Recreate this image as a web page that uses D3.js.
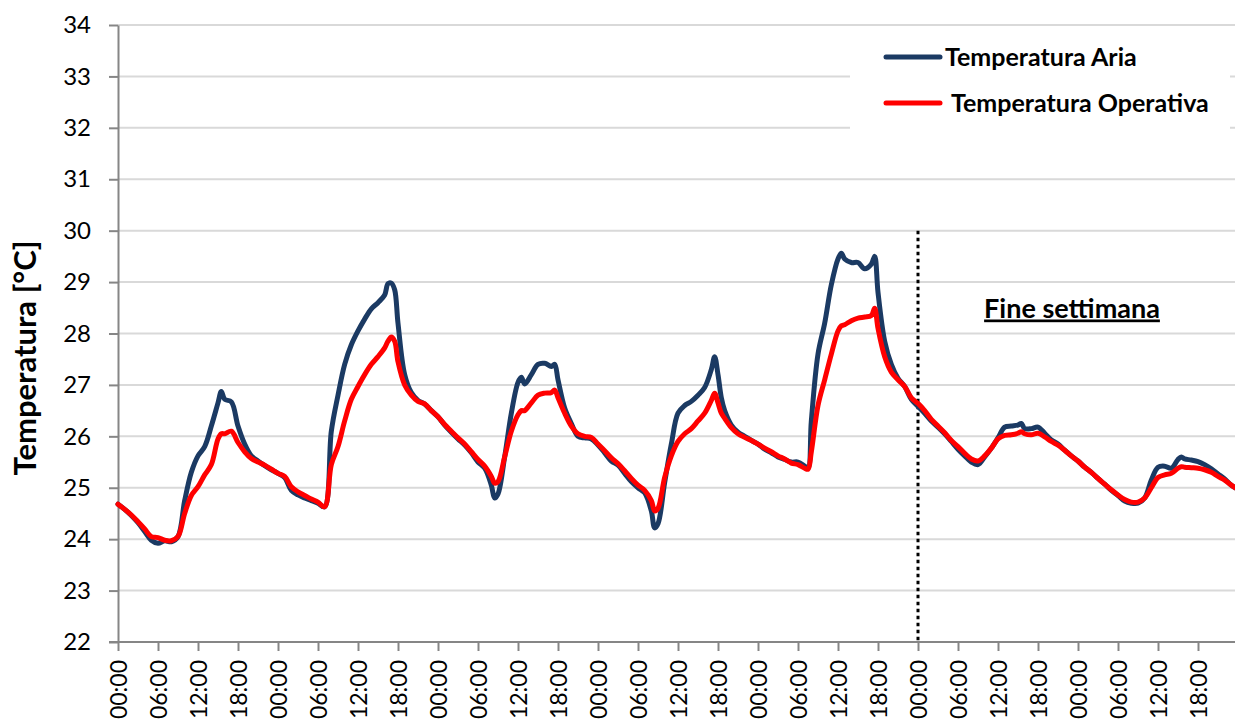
<!DOCTYPE html>
<html>
<head>
<meta charset="utf-8">
<script src="https://cdn.jsdelivr.net/npm/d3@7"></script>
<style>
  html, body { margin: 0; padding: 0; background: #fff; overflow: hidden; }
  svg { display: block; font-family: Lato, "Open Sans", sans-serif; }
</style>
</head>
<body>
<svg id="chart" width="1235" height="722"></svg>
<script>
// Hours elapsed since Monday 00:00 for each sample
const hours = [
  0, 1, 2, 3, 4, 5, 6, 7, 8, 9, 10, 11, 12, 13, 14, 15, 15.5, 16, 17, 18, 19, 20, 21, 22, 23,
  24, 25, 26, 27, 28, 29, 30, 31, 32, 33, 34, 35, 36, 37, 38, 39, 40, 40.5, 41, 41.5, 42, 43, 44, 45, 46, 47,
  48, 49, 50, 51, 52, 53, 54, 55, 56, 56.5, 57, 58, 59, 60, 60.5, 61, 62, 63, 64, 65, 65.5, 66, 67, 68, 69, 70, 71,
  72, 73, 74, 75, 76, 77, 78, 79, 80, 80.5, 81, 82, 83, 84, 85, 86, 87, 88, 89, 89.5, 90, 90.5, 91, 92, 93, 94, 95,
  96, 97, 98, 99, 100, 101, 102, 103, 103.5, 104, 105, 106, 107, 108, 108.5, 109, 110, 111, 112, 113, 113.5, 114, 115, 116, 117, 118, 119,
  120, 121, 122, 123, 124, 125, 126, 127, 128, 129, 130, 131, 132, 133, 134, 135, 135.5, 136, 137, 138, 139, 140, 141, 142, 143,
  144, 145, 146, 147, 148, 149, 150, 151, 152, 153, 154, 155, 156, 157, 158, 159, 159.5, 160, 161, 162, 163, 164, 165, 166, 167, 168
];

// Temperatura Aria [°C]
const airTemp = [
  24.68, 24.58, 24.46, 24.32, 24.15, 23.98, 23.92, 23.97, 23.95, 24.05, 24.75, 25.30, 25.62, 25.80, 26.20, 26.65, 26.87, 26.72, 26.67, 26.20, 25.85, 25.62, 25.52, 25.43, 25.35,
  25.28, 25.20, 24.95, 24.86, 24.80, 24.75, 24.70, 24.63, 26.10, 26.80, 27.40, 27.78, 28.05, 28.28, 28.48, 28.60, 28.75, 28.97, 28.98, 28.85, 28.20, 27.20, 26.85, 26.70, 26.63, 26.50,
  26.38, 26.22, 26.08, 25.95, 25.83, 25.68, 25.50, 25.38, 25.05, 24.80, 24.88, 25.60, 26.45, 27.05, 27.15, 27.02, 27.20, 27.40, 27.42, 27.36, 27.40, 27.10, 26.55, 26.25, 26.00, 25.97, 25.95,
  25.83, 25.68, 25.52, 25.44, 25.28, 25.12, 25.00, 24.90, 24.55, 24.22, 24.30, 25.10, 25.85, 26.45, 26.60, 26.68, 26.80, 26.95, 27.30, 27.55, 27.20, 26.75, 26.50, 26.22, 26.08, 26.00, 25.92,
  25.85, 25.75, 25.68, 25.60, 25.55, 25.50, 25.50, 25.42, 25.38, 26.30, 27.60, 28.20, 28.95, 29.45, 29.56, 29.45, 29.38, 29.38, 29.26, 29.35, 29.50, 28.80, 27.85, 27.40, 27.13, 26.97, 26.72,
  26.58, 26.45, 26.30, 26.18, 26.05, 25.90, 25.75, 25.62, 25.50, 25.45, 25.60, 25.77, 25.97, 26.18, 26.20, 26.22, 26.25, 26.15, 26.15, 26.18, 26.06, 25.93, 25.85, 25.73, 25.62,
  25.52, 25.40, 25.30, 25.18, 25.07, 24.95, 24.85, 24.74, 24.70, 24.70, 24.80, 25.15, 25.40, 25.42, 25.38, 25.55, 25.60, 25.56, 25.54, 25.51, 25.45, 25.37, 25.27, 25.17, 25.05, 24.97
];

// Temperatura Operativa [°C]
const operTemp = [
  24.68, 24.58, 24.47, 24.34, 24.20, 24.05, 24.03, 23.98, 23.97, 24.05, 24.50, 24.85, 25.02, 25.25, 25.45, 25.95, 26.05, 26.05, 26.10, 25.88, 25.70, 25.57, 25.50, 25.44, 25.36,
  25.28, 25.22, 25.02, 24.92, 24.85, 24.78, 24.72, 24.63, 25.45, 25.80, 26.30, 26.72, 26.97, 27.20, 27.40, 27.55, 27.72, 27.85, 27.93, 27.85, 27.45, 27.00, 26.80, 26.68, 26.63, 26.50,
  26.38, 26.23, 26.10, 25.97, 25.85, 25.70, 25.55, 25.42, 25.22, 25.09, 25.12, 25.60, 26.10, 26.42, 26.50, 26.50, 26.65, 26.80, 26.84, 26.85, 26.90, 26.75, 26.45, 26.20, 26.05, 26.00, 25.98,
  25.85, 25.72, 25.58, 25.47, 25.33, 25.18, 25.05, 24.95, 24.75, 24.55, 24.60, 25.20, 25.62, 25.90, 26.05, 26.15, 26.30, 26.45, 26.70, 26.84, 26.65, 26.45, 26.35, 26.17, 26.05, 25.98, 25.92,
  25.85, 25.77, 25.70, 25.62, 25.56, 25.48, 25.45, 25.38, 25.36, 25.70, 26.60, 27.10, 27.60, 28.05, 28.15, 28.17, 28.25, 28.30, 28.32, 28.35, 28.49, 28.10, 27.55, 27.25, 27.10, 26.97, 26.75,
  26.64, 26.50, 26.33, 26.20, 26.07, 25.92, 25.80, 25.67, 25.56, 25.52, 25.62, 25.77, 25.95, 26.02, 26.03, 26.06, 26.09, 26.05, 26.03, 26.06, 25.99, 25.90, 25.83, 25.73, 25.62,
  25.52, 25.40, 25.30, 25.18, 25.07, 24.96, 24.86, 24.77, 24.72, 24.72, 24.80, 25.00, 25.20, 25.25, 25.28, 25.38, 25.41, 25.40, 25.39, 25.38, 25.35, 25.30, 25.22, 25.15, 25.05, 24.97
];

// Axis ticks and labels
const yTicks = [22, 23, 24, 25, 26, 27, 28, 29, 30, 31, 32, 33, 34];
const xTickHours = d3.range(0, 168, 6);
const xTickLabels = ["00:00", "06:00", "12:00", "18:00"];
const weekendStartHour = 120;

const series = [
  { name: "Temperatura Aria", values: airTemp, color: "#1b3a63" },
  { name: "Temperatura Operativa", values: operTemp, color: "#ff0000" }
];

const svg = d3.select("#chart");
const plot = { left: 118, right: 1238, top: 25, bottom: 642 };

const x = d3.scaleLinear().domain([0, 168]).range([plot.left, plot.right]);
const y = d3.scaleLinear().domain([22, 34]).range([plot.bottom, plot.top]);

// Horizontal gridlines
svg.append("g")
  .selectAll("line")
  .data(yTicks.filter(t => t > 22))
  .join("line")
  .attr("x1", plot.left).attr("x2", plot.right)
  .attr("y1", d => y(d)).attr("y2", d => y(d))
  .attr("stroke", "#d9d9d9")
  .attr("stroke-width", 2);

// Y axis
const yAxis = svg.append("g")
  .attr("transform", `translate(${plot.left},0)`)
  .call(d3.axisLeft(y).tickValues(yTicks).tickSize(9).tickPadding(18).tickSizeOuter(0));
yAxis.select(".domain").attr("stroke", "#868686").attr("stroke-width", 2);
yAxis.selectAll(".tick line").attr("stroke", "#868686").attr("stroke-width", 2);
yAxis.selectAll(".tick text")
  .attr("font-size", 24)
  .attr("font-family", "Lato, sans-serif")
  .attr("fill", "#000");

// X axis
const xAxis = svg.append("g")
  .attr("transform", `translate(0,${plot.bottom})`)
  .call(d3.axisBottom(x)
    .tickValues(xTickHours)
    .tickFormat(h => xTickLabels[(h / 6) % 4])
    .tickSize(9)
    .tickSizeOuter(0));
xAxis.select(".domain")
  .attr("d", `M${plot.left - 9},0H${plot.right}`)
  .attr("stroke", "#868686").attr("stroke-width", 2);
xAxis.selectAll(".tick line").attr("stroke", "#868686").attr("stroke-width", 2);
xAxis.selectAll(".tick text")
  .attr("font-size", 23)
  .attr("font-family", "Lato, sans-serif")
  .attr("fill", "#000")
  .attr("transform", "rotate(-90)")
  .attr("text-anchor", "end")
  .attr("x", -18)
  .attr("y", 0)
  .attr("dy", "0.35em");

// Y axis title
svg.append("text")
  .attr("transform", `translate(36,358) rotate(-90)`)
  .attr("text-anchor", "middle")
  .attr("font-size", 31)
  .attr("font-weight", "bold")
  .attr("fill", "#000")
  .text("Temperatura [°C]");

// Start of the weekend
svg.append("line")
  .attr("x1", x(weekendStartHour)).attr("x2", x(weekendStartHour))
  .attr("y1", y(30)).attr("y2", plot.bottom)
  .attr("stroke", "#000")
  .attr("stroke-width", 3)
  .attr("stroke-dasharray", "3.5 3.5");

svg.append("text")
  .attr("x", 1072)
  .attr("y", y(28) - 16)
  .attr("text-anchor", "middle")
  .attr("font-size", 27)
  .attr("font-weight", "bold")
  .attr("text-decoration", "underline")
  .attr("fill", "#000")
  .text("Fine settimana");

// Temperature curves
const line = d3.line()
  .x((d, i) => x(hours[i]))
  .y(d => y(d))
  .curve(d3.curveCatmullRom.alpha(0.5));

svg.append("g")
  .selectAll("path")
  .data(series)
  .join("path")
  .attr("d", d => line(d.values))
  .attr("fill", "none")
  .attr("stroke", d => d.color)
  .attr("stroke-width", 5)
  .attr("stroke-linejoin", "round")
  .attr("stroke-linecap", "round");

// Legend
const legend = svg.append("g");
legend.append("rect")
  .attr("x", 850).attr("y", 35)
  .attr("width", 380).attr("height", 100)
  .attr("fill", "#fff");
const legendRows = legend.selectAll("g.row")
  .data(series)
  .join("g")
  .attr("class", "row")
  .attr("transform", (d, i) => `translate(886,${57 + i * 46})`);
legendRows.append("line")
  .attr("x1", 0).attr("x2", 54)
  .attr("stroke", d => d.color)
  .attr("stroke-width", 5)
  .attr("stroke-linecap", "round");
legendRows.append("text")
  .attr("x", (d, i) => i === 0 ? 59 : 65)
  .attr("dy", "0.35em")
  .attr("font-size", 25)
  .attr("font-weight", "bold")
  .attr("fill", "#000")
  .text(d => d.name);
</script>
</body>
</html>
